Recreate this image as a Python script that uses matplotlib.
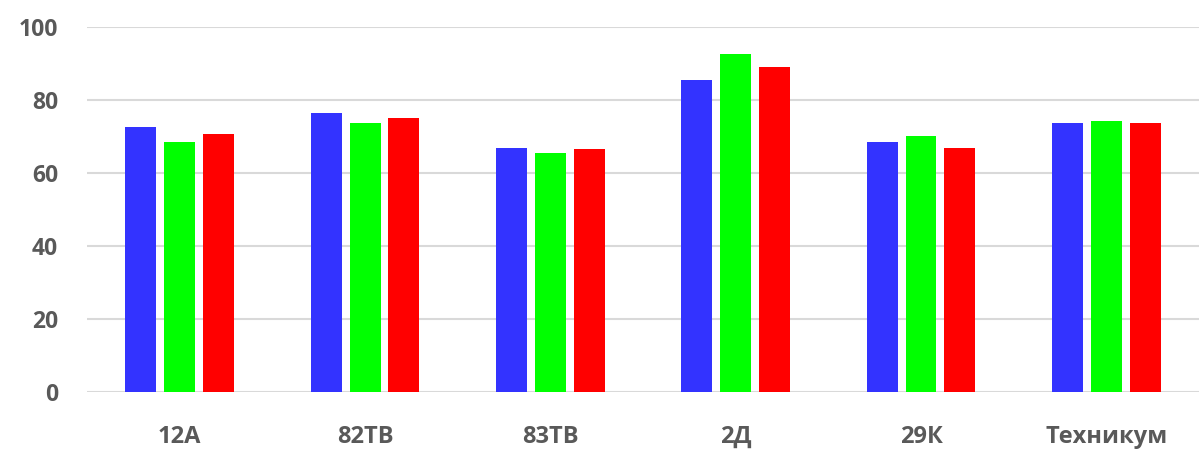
import numpy as np
import matplotlib
matplotlib.use('Agg')
import matplotlib.pyplot as plt

groups = ['12А', '82ТВ', '83ТВ', '2Д', '29К', 'Техникум']
blue_vals = [72.6, 76.5, 67.0, 85.6, 68.5, 73.9]
green_vals = [68.7, 73.9, 65.6, 92.6, 70.3, 74.2]
red_vals = [70.8, 75.2, 66.6, 89.1, 66.9, 73.9]
colors = ['#3333ff', '#00ff00', '#ff0000']

plt.rcParams['font.family'] = ['Open Sans', 'DejaVu Sans']

fig = plt.figure(figsize=(11.99, 4.5), dpi=100)
ax = fig.add_axes([0.0726, 0.129, 0.9274, 0.81])

x = np.arange(len(groups))
w = 0.167
step = 0.21
for i, vals in enumerate([blue_vals, green_vals, red_vals]):
    ax.bar(x + (i - 1) * step, vals, width=w, color=colors[i], zorder=3)

ax.set_xlim(-0.5, len(groups) - 0.5)
ax.set_ylim(0, 100)
ax.set_yticks([0, 20, 40, 60, 80, 100])
ax.set_xticks(x)
ax.set_xticklabels(groups)
ax.yaxis.grid(True, color='#d9d9d9', linewidth=1.5, zorder=0)
for s in ax.spines.values():
    s.set_visible(False)
ax.tick_params(axis='both', length=0, labelcolor='#595959')
ax.tick_params(axis='y', pad=21, labelsize=16.5)
ax.tick_params(axis='x', pad=24, labelsize=17)
for lab in ax.get_xticklabels() + ax.get_yticklabels():
    lab.set_fontweight('bold')

fig.savefig('out.png', dpi=100)
